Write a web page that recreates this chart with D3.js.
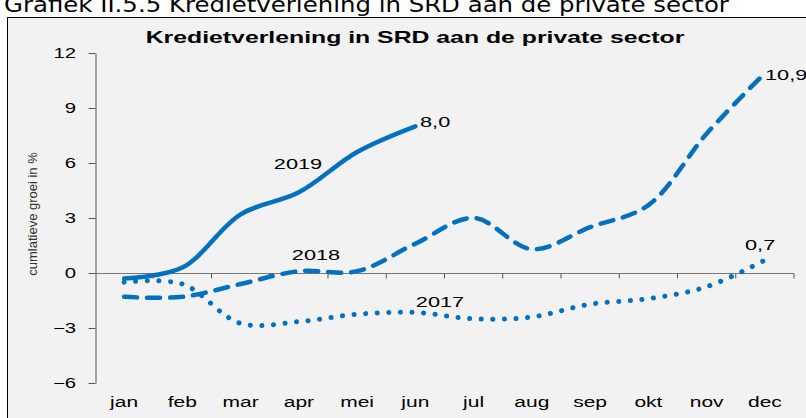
<!DOCTYPE html>
<html>
<head>
<meta charset="utf-8">
<script src="https://cdn.jsdelivr.net/npm/d3@7"></script>
<style>
  body { margin: 0; background: #ffffff; }
  svg { display: block; }
  text { font-family: "Liberation Sans", Arial, sans-serif; fill: #000; }
</style>
</head>
<body>
<svg class="chart"></svg>
<script>
// Chart size
var imageWidth = 806;
var imageHeight = 418;

// Horizontal stretch of the text in the reference
var stretch = 1.45;

// Data
var months = ["jan", "feb", "mar", "apr", "mei", "jun", "jul", "aug", "sep", "okt", "nov", "dec"];
var yTicks = [-6, -3, 0, 3, 6, 9, 12];
var values2017 = [-0.5, -0.6, -2.75, -2.65, -2.25, -2.15, -2.5, -2.4, -1.7, -1.4, -0.75, 0.7];
var values2018 = [-1.3, -1.3, -0.6, 0.1, 0.1, 1.6, 3.0, 1.3, 2.5, 3.7, 7.6, 10.9];
var values2019 = [-0.3, 0.3, 3.2, 4.4, 6.6, 8.0];

var lineColor = "#0070c0";

var canvas = d3.select(".chart")
    .attr("width", imageWidth)
    .attr("height", imageHeight);

// Caption above the box (cut off at the top, as in the source)
canvas.append("text")
    .attr("transform", "translate(4, 12) scale(1.11, 1)")
    .style("font-family", "'DejaVu Sans', Verdana, sans-serif")
    .style("font-size", "22px")
    .text("Grafiek II.5.5 Kredietverlening in SRD aan de private sector");

// Grey chart box
canvas.append("rect")
    .attr("x", 7.5)
    .attr("y", 17.5)
    .attr("width", 800)
    .attr("height", 420)
    .attr("fill", "#f2f2f2")
    .attr("stroke", "#000")
    .attr("stroke-width", 1);

// Title
canvas.append("text")
    .attr("transform", "translate(415, 43) scale(1.55, 1)")
    .attr("text-anchor", "middle")
    .style("font-weight", "bold")
    .style("font-size", "16px")
    .text("Kredietverlening in SRD aan de private sector");

// Scales
var xScale = d3.scaleBand()
    .domain(months)
    .range([95, 794]);

var yScale = d3.scaleLinear()
    .domain([-6, 12])
    .range([383, 53]);

// Y axis
var yAxis = canvas.append("g")
    .attr("transform", "translate(95.5, 0)")
    .call(d3.axisLeft(yScale).tickValues(yTicks).tickSize(7).tickSizeOuter(0));
yAxis.select(".domain").attr("stroke", "#555");
yAxis.selectAll(".tick line").attr("stroke", "#555");
yAxis.selectAll(".tick text")
    .attr("x", -19.5 / stretch)
    .attr("transform", "scale(" + stretch + ", 1)")
    .style("font-size", "14px")
    .style("font-family", "'Liberation Sans', Arial, sans-serif");

// Zero line with ticks on the month boundaries
var xAxis = canvas.append("g")
    .attr("transform", "translate(0, " + (yScale(0) + 0.5) + ")");
xAxis.append("line")
    .attr("x1", xScale.range()[0])
    .attr("x2", xScale.range()[1])
    .attr("stroke", "#777");
xAxis.selectAll(".boundary")
    .data(months)
    .enter().append("line")
    .attr("class", "boundary")
    .attr("x1", function(d) { return xScale(d) + xScale.bandwidth(); })
    .attr("x2", function(d) { return xScale(d) + xScale.bandwidth(); })
    .attr("y1", 0)
    .attr("y2", 5)
    .attr("stroke", "#555");

// Month labels along the bottom
canvas.append("g").selectAll("text")
    .data(months)
    .enter().append("text")
    .attr("transform", function(d) {
        return "translate(" + (xScale(d) + xScale.bandwidth() / 2) + ", 407) scale(1.4, 1)";
    })
    .attr("text-anchor", "middle")
    .style("font-size", "15px")
    .text(function(d) { return d; });

// Y axis title
canvas.append("text")
    .attr("transform", "translate(37, 214) rotate(-90)")
    .attr("text-anchor", "middle")
    .style("font-size", "13px")
    .style("fill", "#333")
    .text("cumlatieve groei in %");

// Line generator
var line = d3.line()
    .x(function(d, i) { return xScale(months[i]) + xScale.bandwidth() / 2; })
    .y(function(d) { return yScale(d); })
    .curve(d3.curveCatmullRom.alpha(0.5));

canvas.append("path")
    .datum(values2017)
    .attr("d", line)
    .attr("fill", "none")
    .attr("stroke", lineColor)
    .attr("stroke-width", 5)
    .attr("stroke-linecap", "round")
    .attr("stroke-dasharray", "0.1,11.5");

canvas.append("path")
    .datum(values2018)
    .attr("d", line)
    .attr("fill", "none")
    .attr("stroke", lineColor)
    .attr("stroke-width", 4.5)
    .attr("stroke-linecap", "round")
    .attr("stroke-dasharray", "13,10");

canvas.append("path")
    .datum(values2019)
    .attr("d", line)
    .attr("fill", "none")
    .attr("stroke", lineColor)
    .attr("stroke-width", 4.5)
    .attr("stroke-linecap", "round");

// Series labels
var labels = [
    { text: "2019", x: 298, y: 169, anchor: "middle" },
    { text: "2018", x: 316, y: 260, anchor: "middle" },
    { text: "2017", x: 440, y: 307, anchor: "middle" },
    { text: "8,0", x: 420, y: 127, anchor: "start" },
    { text: "10,9", x: 765, y: 80, anchor: "start" },
    { text: "0,7", x: 745, y: 250, anchor: "start" }
];
canvas.append("g").selectAll("text")
    .data(labels)
    .enter().append("text")
    .attr("transform", function(d) {
        return "translate(" + d.x + ", " + d.y + ") scale(" + stretch + ", 1)";
    })
    .attr("text-anchor", function(d) { return d.anchor; })
    .style("font-size", "15px")
    .text(function(d) { return d.text; });
</script>
</body>
</html>
